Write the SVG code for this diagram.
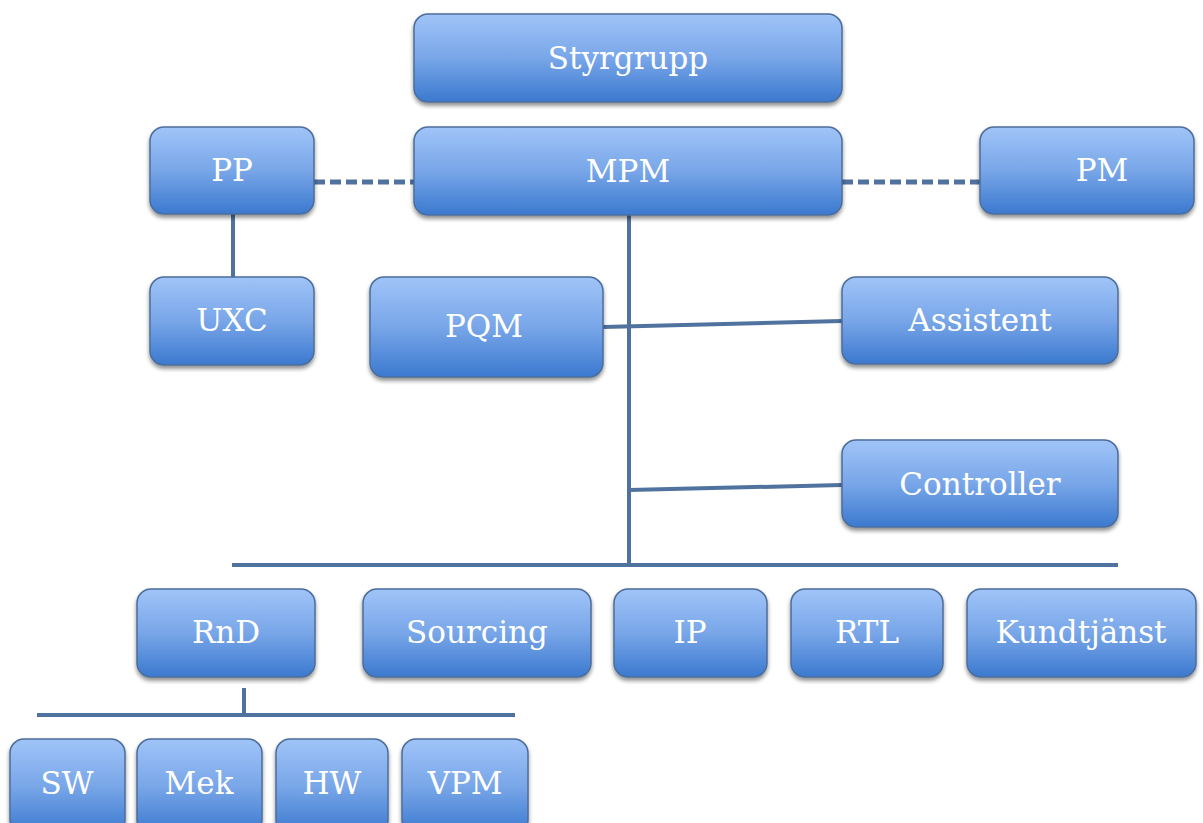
<svg xmlns="http://www.w3.org/2000/svg" width="1203" height="823" viewBox="0 0 1203 823">
<defs>
<linearGradient id="g" x1="0" y1="0" x2="0" y2="1">
<stop offset="0" stop-color="#a0c4f8"/>
<stop offset="0.5" stop-color="#78a6e8"/>
<stop offset="1" stop-color="#3b79cf"/>
</linearGradient>
<filter id="sh" x="-10%" y="-10%" width="120%" height="130%">
<feGaussianBlur in="SourceAlpha" stdDeviation="2"/>
<feOffset dx="0" dy="3" result="b"/>
<feComponentTransfer><feFuncA type="linear" slope="0.45"/></feComponentTransfer>
<feMerge><feMergeNode/><feMergeNode in="SourceGraphic"/></feMerge>
</filter>
</defs>
<style>
.n rect{fill:url(#g);stroke:#4c6d9a;stroke-width:1.5;filter:url(#sh)}
.n text{font-family:"DejaVu Serif","Liberation Serif",serif;font-size:31px;fill:#ffffff;text-anchor:middle;dominant-baseline:central}
.c line{stroke:#50729f;stroke-width:4}
.c .d{stroke-width:5;stroke-dasharray:11 5}
</style>
<rect width="1203" height="823" fill="#ffffff"/>
<g class="c" id="connectors">
<line class="d" x1="314" y1="182" x2="414" y2="182"/>
<line class="d" x1="842" y1="182" x2="980" y2="182"/>
<line x1="233" y1="214" x2="233" y2="277"/>
<line x1="629" y1="215" x2="629" y2="565"/>
<line x1="603" y1="327" x2="842" y2="321"/>
<line x1="629" y1="490" x2="842" y2="485"/>
<line x1="232" y1="565" x2="1118" y2="565"/>
<line x1="244" y1="688" x2="244" y2="715"/>
<line x1="37" y1="715" x2="515" y2="715"/>
</g>
<g class="n" id="styrgrupp"><rect x="414" y="14" width="428" height="88" rx="14"/><text x="628" y="58">Styrgrupp</text></g>
<g class="n" id="mpm"><rect x="414" y="127" width="428" height="88" rx="14"/><text x="628" y="171">MPM</text></g>
<g class="n" id="pp"><rect x="150" y="127" width="164" height="87" rx="14"/><text x="232" y="170">PP</text></g>
<g class="n" id="pm"><rect x="980" y="127" width="214" height="87" rx="14"/><text x="1102" y="170">PM</text></g>
<g class="n" id="uxc"><rect x="150" y="277" width="164" height="88" rx="14"/><text x="232" y="320">UXC</text></g>
<g class="n" id="pqm"><rect x="370" y="277" width="233" height="100" rx="14"/><text x="484" y="326">PQM</text></g>
<g class="n" id="assistent"><rect x="842" y="277" width="276" height="87" rx="14"/><text x="980" y="320">Assistent</text></g>
<g class="n" id="controller"><rect x="842" y="440" width="276" height="87" rx="14"/><text x="980" y="484">Controller</text></g>
<g class="n" id="rnd"><rect x="137" y="589" width="178" height="88" rx="14"/><text x="226" y="632">RnD</text></g>
<g class="n" id="sourcing"><rect x="363" y="589" width="228" height="88" rx="14"/><text x="477" y="632">Sourcing</text></g>
<g class="n" id="ip"><rect x="614" y="589" width="153" height="88" rx="14"/><text x="690" y="632">IP</text></g>
<g class="n" id="rtl"><rect x="791" y="589" width="152" height="88" rx="14"/><text x="867" y="632">RTL</text></g>
<g class="n" id="kundtjanst"><rect x="967" y="589" width="229" height="88" rx="14"/><text x="1081" y="632">Kundtjänst</text></g>
<g class="n" id="sw"><rect x="10" y="739" width="115" height="95" rx="14"/><text x="67" y="783">SW</text></g>
<g class="n" id="mek"><rect x="137" y="739" width="125" height="95" rx="14"/><text x="199" y="783">Mek</text></g>
<g class="n" id="hw"><rect x="276" y="739" width="112" height="95" rx="14"/><text x="332" y="783">HW</text></g>
<g class="n" id="vpm"><rect x="402" y="739" width="126" height="95" rx="14"/><text x="465" y="783">VPM</text></g>
</svg>
